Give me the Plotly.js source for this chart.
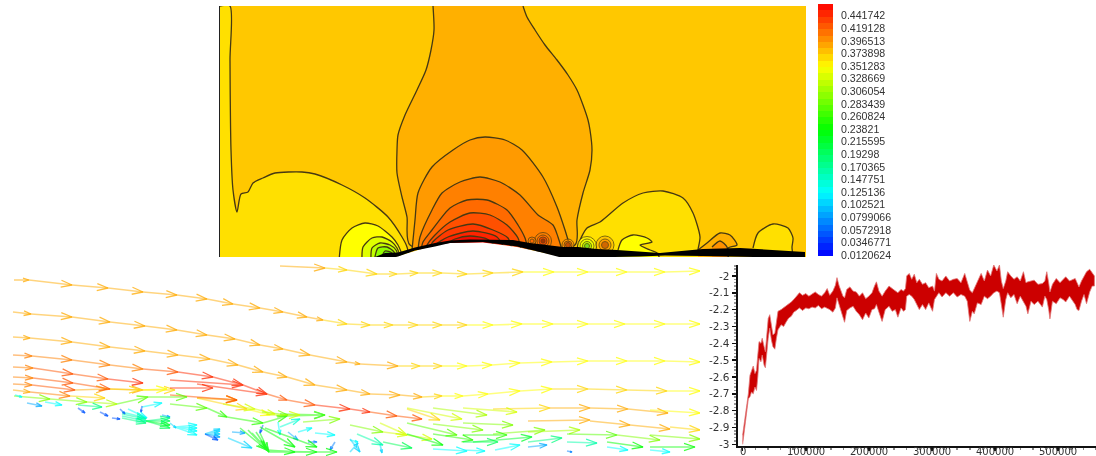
<!DOCTYPE html>
<html><head><meta charset="utf-8">
<script src="https://cdn.plot.ly/plotly-3.0.1.min.js"></script>
<style>html,body{margin:0;padding:0;background:#fff;overflow:hidden}#c{width:1096px;height:456px;filter:blur(0.55px)}</style></head>
<body><div id="c"></div>
<script>
// ---------- colour scale shared by contour, legend and vectors ----------
const scaleMin = 0.012, scaleMax = 0.462;
const rainbow = [[0,'#0000ff'],[0.25,'#00ffff'],[0.5,'#00ff00'],[0.75,'#ffff00'],[1,'#ff0000']];

// ---------- legend ----------
const legendLabels = ['0.441742','0.419128','0.396513','0.373898','0.351283','0.328669','0.306054','0.283439','0.260824','0.23821','0.215595','0.19298','0.170365','0.147751','0.125136','0.102521','0.0799066','0.0572918','0.0346771','0.0120624'];

// ---------- contour regions ----------
const regionYellowX = [220,230,230,231,233,237,241,248,253,263,275,302,315,342,365,388,402,407,409,220];
const regionYellowY = [6,6,60,150,190,212,194,192,183,178,173,172,174,185,198,217,237,247,270,270];
const regionL1X = [433,434,431,426,417,405,398,397,397,402,407,410,575,577,583,590,592,590,588,583,577,568,557,545,535,527,523];
const regionL1Y = [6,30,50,70,90,115,135,150,173,197,217,245,245,220,193,170,150,130,120,105,90,75,60,45,30,17,6];
const regionL2X = [412,415,418,432,453,470,485,505,522,543,557,565,571];
const regionL2Y = [250,220,193,167,150,140,137,140,150,177,207,230,250];
const regionL3X = [418,420,432,442,460,480,500,520,538,553,558,562];
const regionL3Y = [250,237,210,193,182,177,182,195,215,225,237,250];
const regionL4X = [421,423,432,450,467,487,507,518,525,528];
const regionL4Y = [250,242,230,208,200,200,210,225,238,250];
const regionL5X = [425,427,435,450,470,490,507,518,521];
const regionL5Y = [250,245,235,222,213,215,225,238,250];
const regionL6X = [430,432,448,473,493,508,512];
const regionL6Y = [250,243,230,224,230,238,250];
const regionL7X = [432,435,448,473,497,505];
const regionL7Y = [250,245,237,231,237,250];
const regionL8X = [440,455,470,487,497];
const regionL8Y = [248,239,236,239,248];
const lowA_X = [339,342,352,365,378,392,398,405];
const lowA_Y = [262,240,228,223,226,237,245,262];
const lowB_X = [362,363,372,382,392,397,402];
const lowB_Y = [262,247,238,237,242,248,262];
const lowC_X = [371,372,380,390,396,400];
const lowC_Y = [262,248,243,245,250,262];
const lowD_X = [374,378,387,394,398];
const lowD_Y = [262,248,247,252,262];
const lowE_X = [380,385,392,396];
const lowE_Y = [262,251,253,262];
const blobA_X = [576,578,587,600,623,643,663,683,693,700,698,698,576];
const blobA_Y = [256,245,228,222,203,193,191,198,213,237,250,262,262];
const blobB_X = [618,622,633,647,652,640,650,657,660,618];
const blobB_Y = [250,240,235,238,242,245,250,253,262,262];
const blobC_X = [698,707,720,730,737,728,728,698];
const blobC_Y = [250,243,233,235,245,248,262,262];
const blobD_X = [712,720,727,727,712];
const blobD_Y = [247,241,247,262,262];
const blobE_X = [753,758,773,788,793,792,792,753];
const blobE_Y = [248,233,224,228,238,247,262,262];
const wingX = [375,385,398,415,435,450,470,490,513,530,550,563,578,597,617,660,703,740,805,805,703,665,640,563,540,517,483,450,435,415,398,390];
const wingY = [257,253,252.5,247.5,243,240.5,239.5,239.5,240,243,245,247,247,249,250,253,249,248,252,258,256,255.5,256.5,258,252,246.5,242,243,246.5,250.5,256.5,258];
const airfoilX = [395,415,435,450,483,517,540,563,563,395];
const airfoilY = [257,251,245,243,242.5,247,252,257,265,265];

const ringX = [543,543,543,543,532,532,568,568,568,587,587,587,587,605,605,605];
const ringY = [241,241,241,241,241,241,245,245,245,246,246,246,246,245,245,245];
const ringD = [17,12,8,4,8,4,12,8,5,19,14,9,5,18,12,7];
const ringC = ['#ff7f00','#ff6000','#e03c00','#8a2b00','#ff8000','#ff6000','#ff9000','#ff6a00','#b04000','#ffff00','#e0ff00','#a8f000','#60d020','#ffb800','#ff9000','#c05000'];

// ---------- convergence history ----------
const histTickVals = [0,100000,200000,300000,400000,500000];
const histTickText = ['0','100000','200000','300000','400000','500000'];
const histX = [0,3700,6300,9000,11600,14000,16800,19500,22000,24000,26000,29000,31000,34000,36000,38500,40500,43000,45500,48000,51000,53500,56000,61000,65000,69500,73000,77000,81000,85000,90000,95000,100000,105000,110000,115000,120000,125000,130000,134000,138000,143000,147000,149500,153000,156000,159000,161500,165000,170000,175000,180000,185000,190000,195000,200000,205000,209000,212000,216000,221000,226000,232000,237000,242000,246000,251000,255000,258000,260000,264000,268000,272000,276000,280000,285000,290000,295000,301000,304000,307000,311000,316000,322000,328000,334000,340000,346000,352000,356000,360000,364000,367000,372000,378000,383000,388000,393000,398000,403000,407000,410000,413000,417000,420000,425000,430000,435000,440000,445000,449000,452000,457000,462000,468000,475000,479000,482000,485000,487000,491000,497000,503000,508000,512000,518000,523000,527000,530000,533000,537000,541000,545000,550000,554000,557500];
const histHi = [-2.945,-2.846,-2.767,-2.70,-2.59,-2.56,-2.535,-2.58,-2.56,-2.47,-2.39,-2.40,-2.37,-2.42,-2.45,-2.34,-2.253,-2.23,-2.30,-2.35,-2.34,-2.28,-2.21,-2.20,-2.19,-2.175,-2.17,-2.155,-2.14,-2.125,-2.10,-2.115,-2.105,-2.12,-2.105,-2.095,-2.11,-2.12,-2.10,-2.075,-2.115,-2.09,-2.055,-2.01,-2.06,-2.085,-2.12,-2.13,-2.08,-2.065,-2.09,-2.095,-2.12,-2.10,-2.135,-2.12,-2.10,-2.06,-2.035,-2.09,-2.12,-2.09,-2.06,-2.075,-2.09,-2.10,-2.08,-2.09,-2.075,-2.00,-1.985,-2.02,-1.99,-2.04,-2.02,-2.05,-2.04,-2.07,-2.06,-2.09,-1.985,-2.02,-2.03,-2.00,-2.03,-2.02,-2.015,-2.04,-1.985,-2.03,-2.085,-2.10,-2.075,-2.03,-1.985,-2.03,-1.965,-2.00,-1.935,-1.97,-1.935,-2.03,-2.075,-2.03,-1.975,-2.00,-2.02,-2.005,-2.03,-1.975,-2.04,-2.035,-2.03,-2.025,-2.05,-2.045,-2.03,-1.975,-2.04,-2.095,-2.05,-2.015,-2.04,-2.02,-2.005,-2.03,-2.02,-2.015,-2.04,-2.065,-2.03,-2.00,-1.975,-1.96,-1.985,-2.0];
const histLo = [-3,-2.905,-2.806,-2.73,-2.717,-2.69,-2.70,-2.66,-2.68,-2.60,-2.49,-2.51,-2.47,-2.53,-2.545,-2.45,-2.37,-2.31,-2.38,-2.42,-2.435,-2.37,-2.32,-2.29,-2.30,-2.27,-2.25,-2.24,-2.215,-2.205,-2.19,-2.205,-2.19,-2.195,-2.185,-2.19,-2.175,-2.195,-2.185,-2.19,-2.20,-2.215,-2.19,-2.13,-2.17,-2.21,-2.245,-2.275,-2.205,-2.19,-2.18,-2.21,-2.23,-2.26,-2.22,-2.25,-2.20,-2.195,-2.17,-2.215,-2.27,-2.20,-2.18,-2.21,-2.20,-2.245,-2.19,-2.21,-2.20,-2.12,-2.11,-2.12,-2.14,-2.165,-2.20,-2.17,-2.20,-2.16,-2.21,-2.14,-2.12,-2.10,-2.125,-2.10,-2.12,-2.10,-2.125,-2.11,-2.12,-2.15,-2.27,-2.21,-2.225,-2.16,-2.17,-2.12,-2.135,-2.12,-2.10,-2.09,-2.10,-2.17,-2.245,-2.14,-2.10,-2.13,-2.11,-2.165,-2.12,-2.155,-2.18,-2.225,-2.15,-2.17,-2.15,-2.185,-2.12,-2.14,-2.20,-2.255,-2.15,-2.165,-2.13,-2.14,-2.155,-2.12,-2.15,-2.17,-2.20,-2.205,-2.15,-2.11,-2.165,-2.095,-2.06,-2.06];

// ---------- vector field: chained streamlines ----------
const streamX = [
 [280,325,347,377,397,418,442,467,493,523,554,588,627,665,700],
 [14,29,72,108,143,177,207,233,260,283,307,323,347,370,393,418,442,467,493,522,553,588,625,665,700],
 [13,31,72,110,145,177,207,235,260,283,310,347,360,398,420,442,467,492,520,552,588,627,665,700],
 [13,30,72,110,145,178,210,238,263,287,315,347,370,400,422,442,463,488,520,552,588,627,667,700],
 [13,32,72,110,143,178,213,243,267,287,315,350,370,397,422],
 [13,33,73,108,143],[13,33,73,110,143,175],[13,32,75,107,140,167],[13,30,70,105],
 [14,50,87,117,148,187],[170,207,227,263,287,325]];
const streamY = [
 [266,268,270,274,274,273,273,274,273,272,272,272,272,272,271],
 [280,280,285,288,292,295,299,304,308,312,317,320,324,325,325,325,325,325,325,324,324,324,324,324,324],
 [312,314,317,322,326,330,335,339,345,349,355,362,364,366,366,366,366,365,363,362,361,361,361,362],
 [337,338,342,347,351,355,359,365,372,377,385,390,394,395,397,396,396,394,391,389,389,390,391,391],
 [355,356,360,365,369,372,377,385,394,400,405,409,412,416,419],
 [367,368,374,379,383],[377,378,383,389,390,390],[384,385,390,389,390,389],[390,392,396,398],
 [396,399,402,404,397,397],[404,408,417,423,416,415]];
const streamV = [
 [.38,.38,.37,.37,.37,.37,.36,.36,.36,.36,.35,.35,.35,.35,.35],
 [.385,.385,.385,.385,.385,.385,.38,.38,.38,.38,.38,.38,.375,.37,.365,.36,.36,.36,.355,.355,.355,.35,.35,.35,.35],
 [.385,.385,.385,.385,.385,.39,.39,.39,.39,.39,.385,.38,.38,.38,.365,.36,.355,.355,.35,.35,.35,.35,.35,.35],
 [.39,.39,.39,.39,.39,.39,.39,.39,.39,.39,.39,.39,.38,.38,.38,.37,.355,.345,.345,.35,.36,.37,.36,.35],
 [.40,.40,.40,.41,.41,.42,.44,.44,.44,.42,.42,.44,.44,.43,.42],
 [.41,.41,.42,.43,.44],[.41,.41,.43,.43,.38,.36],[.40,.40,.42,.38,.36,.35],[.39,.39,.40,.36],
 [.15,.30,.30,.31,.28,.27],[.30,.27,.26,.25,.25,.25]];

// ---------- vector field: isolated arrows ----------
const arrowX0 = [170,197,170,170,197,197,247,270,197,223,255,262,280,303,280,298,315,350,350,308,335,288,278,263,228,232,
 407,433,463,493,550,590,628,650,407,350,383,407,380,407,433,463,528,590,630,670,433,463,493,528,567,617,650,407,357,383,463,473,528,567,607,650,433,463,495,528,607,650,567,350,380,
 260,260,265,252,268,268,268,240,248,256,205,205,205,205,205,175,175,175,175,
 122,122,122,122,146,146,146,146,128,162,142,142,112,78,27,45,78,15,100,120,170];
const arrowY0 = [380,384,388,395,398,398,409,415,398,404,409,412,414,422,427,432,433,440,452,442,442,432,422,425,438,432,
 408,408,408,409,408,408,409,410,409,425,432,435,423,423,424,423,421,421,425,427,434,435,434,432,434,435,435,434,434,442,442,442,442,442,442,447,449,450,450,447,447,450,451,439,444,
 433,427,428,433,450,451,452,428,430,432,434,434,434,434,434,427,427,427,427,
 412,414,416,418,421,421,421,421,409,415,407,406,418,408,403,402,405,395,412,409,423];
const arrowX1 = [243,267,213,237,237,247,270,300,237,255,275,288,325,340,300,312,335,358,358,317,330,298,280,260,252,245,
 462,487,517,550,590,628,668,700,440,383,407,432,407,457,483,513,590,630,670,700,473,507,545,580,617,660,700,443,383,412,498,532,562,597,643,695,467,485,520,547,628,670,572,360,382,
 268,295,317,267,295,317,337,267,268,269,220,220,220,220,218,197,197,197,197,
 146,146,146,146,170,170,170,170,147,170,162,141,120,85,42,62,102,22,108,125,176];
const arrowY1 = [385,394,388,400,400,409,415,415,400,409,414,415,415,419,419,428,435,442,443,442,450,440,435,433,448,433,
 419,415,412,408,408,409,413,413,420,432,435,439,435,435,430,425,420,425,429,430,440,435,430,430,435,440,439,445,445,448,442,437,438,443,447,447,451,451,445,445,450,452,452,452,453,
 450,447,447,449,452,452,452,450,451,452,429,431,434,437,440,425,428,431,435,
 418,419,421,423,418,421,425,428,418,417,403,412,419,413,406,405,407,397,416,414,428];
const arrowV = [.44,.44,.44,.42,.39,.36,.345,.33,.39,.33,.33,.30,.26,.29,.15,.12,.12,.12,.10,.06,.06,.08,.12,.05,.10,.08,
 .33,.32,.33,.36,.38,.39,.38,.35,.37,.30,.33,.34,.33,.27,.29,.30,.38,.39,.39,.36,.25,.26,.30,.31,.28,.30,.30,.24,.17,.20,.20,.22,.18,.17,.24,.23,.13,.12,.13,.08,.13,.13,.07,.10,.10,
 .23,.24,.24,.23,.24,.24,.24,.23,.23,.23,.11,.11,.10,.09,.05,.13,.13,.13,.13,
 .15,.16,.17,.18,.19,.20,.21,.20,.13,.09,.13,.05,.05,.05,.09,.12,.18,.13,.05,.05,.10];

// ---------- helpers (no data below) ----------
function hex2(c){return [1,3,5].map(i=>parseInt(c.substr(i,2),16));}
function speedColor(v){
  let t=Math.max(0,Math.min(1,(v-scaleMin)/(scaleMax-scaleMin)));
  t=Math.round(t*24)/24;
  for(let i=1;i<rainbow.length;i++){
    if(t<=rainbow[i][0]){
      const a=rainbow[i-1],b=rainbow[i],f=(t-a[0])/(b[0]-a[0]),p=hex2(a[1]),q=hex2(b[1]);
      return 'rgb('+p.map((u,k)=>Math.round(u+(q[k]-u)*f)).join(',')+')';
    }
  }
  return 'rgb(255,0,0)';
}
const ISO='#463912';
function region(x,y,c,noLine){
  return {type:'scatter',mode:'lines',x:x,y:y,xaxis:'x',yaxis:'y',fill:'toself',fillcolor:c,
    line:{color:noLine?c:ISO,width:noLine?0:1.3,shape:noLine?'linear':'spline',smoothing:0.7},hoverinfo:'skip',showlegend:false};
}
const labelVals = legendLabels.map(Number);
const bandStep = (labelVals[0]-labelVals[19])/38;
const bandEdges = [], bandMid = [];
for(let i=0;i<=40;i++){bandEdges.push(labelVals[19]-0.0018+i*bandStep);}
for(let i=0;i<40;i++){bandMid.push([(bandEdges[i]+bandEdges[i+1])/2]);}

const traces=[
  region(regionYellowX,regionYellowY,'#ffe000'),
  region(regionL1X,regionL1Y,'#ffb000'),
  region(regionL2X,regionL2Y,'#ff9a00'),
  region(regionL3X,regionL3Y,'#ff8000'),
  region(regionL4X,regionL4Y,'#ff6a00'),
  region(regionL5X,regionL5Y,'#ff5000'),
  region(regionL6X,regionL6Y,'#ff3a00'),
  region(regionL7X,regionL7Y,'#ff2400'),
  region(regionL8X,regionL8Y,'#f00c00'),
  region(lowA_X,lowA_Y,'#ffff00'),
  region(lowB_X,lowB_Y,'#e0ff00'),
  region(lowC_X,lowC_Y,'#c0ff00'),
  region(lowD_X,lowD_Y,'#90ff00'),
  region(lowE_X,lowE_Y,'#60e010'),
  region(blobA_X,blobA_Y,'#ffe000'),
  region(blobB_X,blobB_Y,'#ffff00'),
  region(blobC_X,blobC_Y,'#ffb000'),
  region(blobD_X,blobD_Y,'#ff9000'),
  region(blobE_X,blobE_Y,'#ffe000'),
  {type:'scatter',mode:'markers',x:ringX,y:ringY,xaxis:'x',yaxis:'y',hoverinfo:'skip',showlegend:false,
   marker:{size:ringD,color:ringC,line:{color:ISO,width:1}}},
  region(airfoilX,airfoilY,'#ffffff',true),
  region(wingX,wingY,'#000000',true),
  // legend
  {type:'heatmap',xaxis:'x4',yaxis:'y4',x:[0],y:bandEdges,z:bandMid,zmin:scaleMin,zmax:scaleMax,colorscale:rainbow,showscale:false,hoverinfo:'skip'},
  // history
  {type:'scatter',mode:'lines',xaxis:'x3',yaxis:'y3',
   x:histX.concat(histX.slice().reverse()),y:histHi.concat(histLo.slice().reverse()),
   fill:'toself',fillcolor:'#cc0000',line:{color:'rgba(225,120,120,0.8)',width:1},hoverinfo:'skip',showlegend:false}
];

// vector field grouped by colour, shaft and head through the library's scales
const groups={};
function addArrow(x0,y0,x1,y1,v){
  const c=speedColor(v); const g=groups[c]||(groups[c]={sx:[],sy:[],hx:[],hy:[]});
  g.sx.push(x0,x1,null); g.sy.push(y0,y1,null);
  const L=Math.hypot(x1-x0,y1-y0)||1,ux=(x1-x0)/L,uy=(y1-y0)/L,k=Math.min(11,L*0.4),w=k*0.32;
  g.hx.push(x1-k*ux-w*uy,x1,x1-k*ux+w*uy,null);
  g.hy.push(y1-k*uy+w*ux,y1,y1-k*uy-w*ux,null);
}
streamX.forEach((xs,r)=>{for(let i=1;i<xs.length;i++)addArrow(xs[i-1],streamY[r][i-1],xs[i],streamY[r][i],streamV[r][i]);});
arrowX0.forEach((x,i)=>addArrow(x,arrowY0[i],arrowX1[i],arrowY1[i],arrowV[i]));
Object.keys(groups).forEach(c=>{
  const g=groups[c];
  traces.push({type:'scatter',mode:'lines',xaxis:'x2',yaxis:'y2',x:g.sx,y:g.sy,opacity:0.5,line:{color:c,width:1.6},hoverinfo:'skip',showlegend:false});
  traces.push({type:'scatter',mode:'lines',xaxis:'x2',yaxis:'y2',x:g.hx,y:g.hy,opacity:0.75,line:{color:c,width:1.3},hoverinfo:'skip',showlegend:false});
});

const W=1096,H=456;
const hidden={visible:false,showgrid:false,zeroline:false,fixedrange:true};
const layout={
  width:W,height:H,margin:{l:0,r:0,t:0,b:0,pad:0},paper_bgcolor:'#fff',plot_bgcolor:'rgba(0,0,0,0)',showlegend:false,
  shapes:[{type:'rect',xref:'x',yref:'y',x0:220,x1:806,y0:6,y1:257,fillcolor:'#ffc800',line:{width:0},layer:'below'}],
  annotations:histTickVals.map((v,i)=>({xref:'x3',yref:'y3',x:v,y:-3.01,text:histTickText[i],showarrow:false,xanchor:'center',yanchor:'middle',yshift:-5,borderpad:0,
    font:{family:'DejaVu Sans',size:10,color:'#333'}})),
  xaxis:Object.assign({},hidden,{domain:[220/W,806/W],range:[220,806]}),
  yaxis:{domain:[(H-257)/H,(H-6)/H],range:[257,6],anchor:'x',showgrid:false,zeroline:false,ticks:'',showticklabels:false,showline:true,linecolor:'#222',linewidth:1,fixedrange:true},
  xaxis2:Object.assign({},hidden,{domain:[0,700/W],range:[0,700],anchor:'y2'}),
  yaxis2:Object.assign({},hidden,{domain:[0,(H-262)/H],range:[456,262],anchor:'x2'}),
  xaxis3:{domain:[737.6/W,1],range:[-8000,560000],anchor:'y3',tickvals:histTickVals,showticklabels:false,ticks:'outside',ticklen:3,tickwidth:1.5,tickcolor:'#111',
    minor:{dtick:20000,ticks:'outside',ticklen:2,tickcolor:'#888'},showline:true,linecolor:'#111',linewidth:2,showgrid:false,zeroline:false,fixedrange:true},
  yaxis3:{domain:[(H-446)/H,(H-265)/H],range:[-3.01,-1.935],anchor:'x3',tickvals:[-2,-2.1,-2.2,-2.3,-2.4,-2.5,-2.6,-2.7,-2.8,-2.9,-3],ticktext:['-2','-2.1','-2.2','-2.3','-2.4','-2.5','-2.6','-2.7','-2.8','-2.9','-3'],ticks:'outside',ticklen:4,tickwidth:1.5,tickcolor:'#111',
    minor:{dtick:0.02,ticks:'outside',ticklen:2,tickcolor:'#999'},showline:true,linecolor:'#111',linewidth:2,showgrid:false,zeroline:false,
    tickfont:{family:'DejaVu Sans',size:10.5,color:'#333'},fixedrange:true},
  xaxis4:Object.assign({},hidden,{domain:[818/W,833/W],range:[-0.5,0.5],anchor:'y4'}),
  yaxis4:{domain:[(H-256)/H,(H-4)/H],range:[labelVals[19]-0.0018,labelVals[19]-0.0018+40*bandStep],anchor:'x4',side:'right',showgrid:false,zeroline:false,showline:false,ticks:'',
    tickvals:labelVals,ticktext:legendLabels,tickfont:{family:'Liberation Sans',size:10.6,color:'#333'},ticklabelstandoff:7,fixedrange:true}
};
Plotly.newPlot('c',traces,layout,{displayModeBar:false,staticPlot:true});
</script></body></html>
